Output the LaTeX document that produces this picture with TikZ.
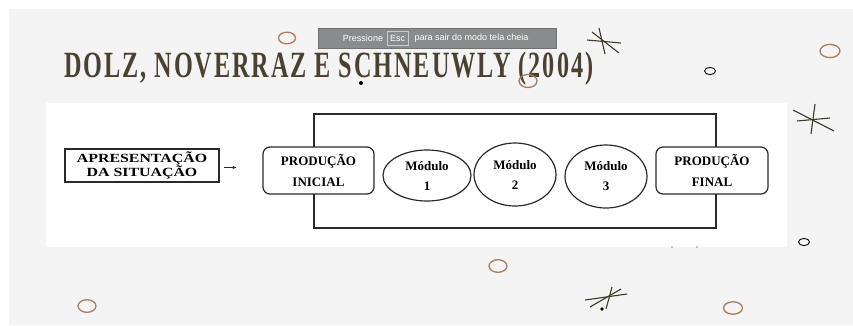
\documentclass[tikz,border=0pt]{standalone}
\usepackage{fontspec}
\setmainfont{Liberation Serif}
\newfontfamily\uisans{Liberation Sans}
\newfontfamily\titlefont[LetterSpace=8]{Liberation Serif}
\usetikzlibrary{arrows.meta,shapes.geometric}
\definecolor{pagegrey}{HTML}{F4F4F4}
\definecolor{ringbrown}{HTML}{A97D5E}
\definecolor{titleink}{HTML}{4A4130}
\definecolor{starink}{HTML}{3C3927}
\definecolor{toastgrey}{HTML}{8A8B8C}
\definecolor{toastedge}{HTML}{707172}
\definecolor{lineink}{HTML}{2A2A2A}
\tikzset{
  ring/.style={draw=ringbrown, line width=1.3pt},
  blackring/.style={draw=black, line width=0.9pt},
  starline/.style={draw=starink, line width=1.1pt},
  diagline/.style={draw=lineink, line width=1.2pt},
  roundbox/.style={diagline, fill=white, rounded corners=7pt, inner sep=0pt,
    align=center, font=\fontsize{13}{21}\selectfont\bfseries},
  modbox/.style={diagline, fill=white, ellipse, inner sep=0pt,
    align=center, font=\fontsize{13}{20}\selectfont\bfseries},
  toasttext/.style={text=white, font=\uisans\fontsize{9}{10}\selectfont, inner sep=0pt}
}
\begin{document}
\begin{tikzpicture}[x=1pt,y=-1pt]
  % page and slide background
  \useasboundingbox (0,0) rectangle (853,325);
  \fill[white] (0,0) rectangle (853,325);
  \fill[pagegrey] (9,9) rectangle (853,325);
  \fill[white] (46,103) rectangle (787,247);

  % title
  \node[anchor=base west, inner sep=0pt, text=titleink] (title) at (64,77)
    {\resizebox{529pt}{\height}{\titlefont\bfseries\fontsize{37}{40}\selectfont DOLZ, NOVERRAZ E SCHNEUWLY (2004)}};

  % full-screen notice
  \node[draw=toastedge, fill=toastgrey, minimum width=238pt, minimum height=20pt, inner sep=0pt] (toast) at (437,38) {};
  \node[toasttext] (toastA) at (363,38.5) {Pressione};
  \node[toasttext, draw=white!80!black, line width=0.6pt, minimum width=21pt, minimum height=14pt] (toastB) at (397.5,38.5) {Esc};
  \node[toasttext] (toastC) at (471.5,38.5) {para sair do modo tela cheia};

  % decorative rings
  \draw[ring] (287,38) ellipse [x radius=8.5, y radius=5.8];
  \draw[ring] (830,51) ellipse [x radius=10, y radius=6.6];
  \draw[ring] (528,81) ellipse [x radius=9, y radius=6.5];
  \draw[ring] (498,266) ellipse [x radius=9, y radius=6.3];
  \draw[ring] (87,306) ellipse [x radius=9, y radius=6.3];
  \draw[ring] (733,308) ellipse [x radius=9.5, y radius=6.2];
  \draw[blackring] (710,71) ellipse [x radius=5.5, y radius=3.6];
  \draw[blackring] (804,242) ellipse [x radius=5.5, y radius=3.6];
  \fill[black] (361,83) circle [radius=2];
  \fill[black] (602,309) circle [radius=1.8];
  \fill[black!45] (672,247) circle [radius=0.8];
  \fill[black!45] (697,247) circle [radius=0.8];

  % decorative stars
  \draw[starline] (587,40) -- (621,43);
  \draw[starline] (599,28) -- (605,54);
  \draw[starline] (592,32) -- (619,53);
  \draw[starline] (793,110) -- (834,131);
  \draw[starline] (815,104) -- (811,134);
  \draw[starline] (797,121) -- (830,118);
  \draw[starline] (585,300) -- (627,294);
  \draw[starline] (612,287) -- (606,309);
  \draw[starline] (590,307) -- (621,289);

  % sequence diagram
  \node[diagline, minimum width=402pt, minimum height=114pt, inner sep=0pt] (frame) at (515,171) {};
  \node[diagline, fill=white, minimum width=154pt, minimum height=33pt, inner sep=0pt,
        align=center, font=\fontsize{12.5}{12.5}\selectfont\bfseries] (apres) at (142,165.5)
    {\scalebox{1.27}[1]{APRESENTAÇÃO}\\\scalebox{1.27}[1]{DA SITUAÇÃO}};
  \node[roundbox, minimum width=111pt, minimum height=47pt] (prodini) at (318.5,170.5) {PRODUÇÃO\\INICIAL};
  \node[modbox, minimum width=88pt, minimum height=51pt] (mod1) at (427,175.5) {Módulo\\1};
  \node[modbox, minimum width=82pt, minimum height=63pt] (mod2) at (515,174.5) {Módulo\\2};
  \node[modbox, minimum width=82pt, minimum height=63pt] (mod3) at (606,176.5) {Módulo\\3};
  \node[roundbox, minimum width=112pt, minimum height=47pt] (prodfin) at (712,170.5) {PRODUÇÃO\\FINAL};

  \draw[draw=lineink, line width=0.9pt, -{Stealth[length=4pt,width=3.2pt]}, shorten <=4pt, shorten >=26pt]
    ([yshift=-2pt]apres.east) -- ([yshift=-2pt]apres.east -| prodini.west);
\end{tikzpicture}
\end{document}
